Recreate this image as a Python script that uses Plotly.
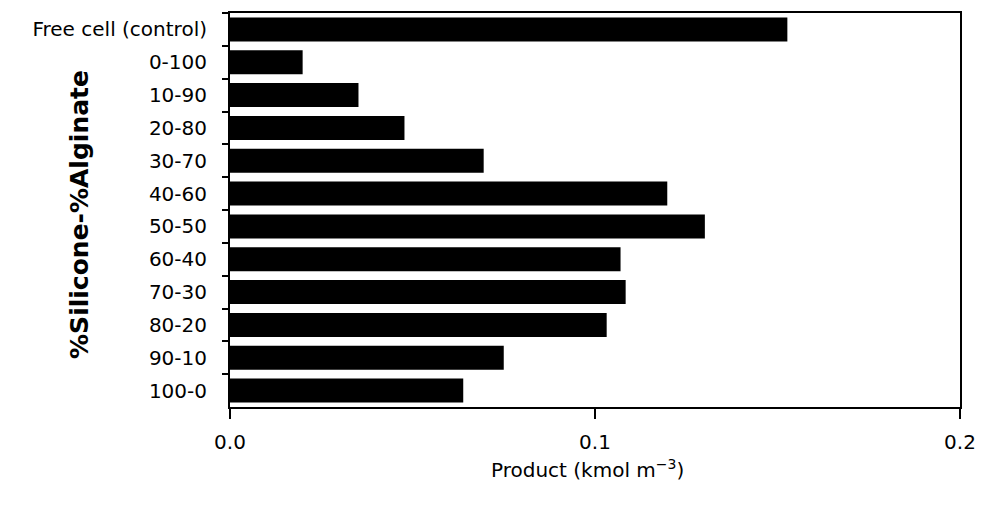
import plotly.graph_objects as go

categories = ["Free cell (control)", "0-100", "10-90", "20-80", "30-70", "40-60",
              "50-50", "60-40", "70-30", "80-20", "90-10", "100-0"]
product = [0.1527, 0.0199, 0.0352, 0.0478, 0.0695, 0.1198,
           0.1301, 0.1070, 0.1084, 0.1032, 0.0750, 0.0639]
x_ticks = [0.0, 0.1, 0.2]
x_tick_labels = ["0.0", "0.1", "0.2"]
x_title = "Product (kmol m<sup>−3</sup>)"
y_title = "%Silicone-%Alginate"

font_family = "DejaVu Sans, Liberation Sans, Arial, sans-serif"

fig = go.Figure(go.Bar(
    x=product, y=categories, orientation="h",
    marker=dict(color="black", line=dict(width=0)),
    width=0.73,
))

fig.update_layout(
    width=968, height=500,
    margin=dict(l=222, r=16, t=5, b=101),
    paper_bgcolor="white", plot_bgcolor="white",
    showlegend=False,
    font=dict(family=font_family, color="black", size=18),
    xaxis=dict(
        range=[0, 0.2], tickvals=x_ticks, ticktext=x_tick_labels,
        automargin=False,
        ticks="outside", ticklen=10, tickwidth=2, tickcolor="black",
        ticklabelstandoff=6,
        showline=True, linewidth=2, linecolor="black", mirror=True,
        showgrid=False, zeroline=False,
        tickfont=dict(size=20, family=font_family),
    ),
    yaxis=dict(
        type="category",
        categoryorder="array", categoryarray=categories,
        autorange="reversed",
        automargin=False,
        tickson="boundaries",
        ticks="outside", ticklen=6, tickwidth=2, tickcolor="black",
        ticklabelstandoff=17,
        showline=True, linewidth=2, linecolor="black", mirror=True,
        showgrid=False, zeroline=False,
        tickfont=dict(size=20, family=font_family),
    ),
    annotations=[
        dict(text=y_title, xref="paper", yref="paper", x=-0.2055, y=0.49,
             xanchor="center", yanchor="middle", textangle=-90, showarrow=False,
             font=dict(size=25, family="DejaVu Sans, sans-serif", weight="bold")),
        dict(text=x_title, xref="paper", yref="paper", x=0.49, y=-0.158,
             xanchor="center", yanchor="middle", showarrow=False,
             font=dict(size=20, family=font_family)),
    ],
)

fig.write_html("out.html")
